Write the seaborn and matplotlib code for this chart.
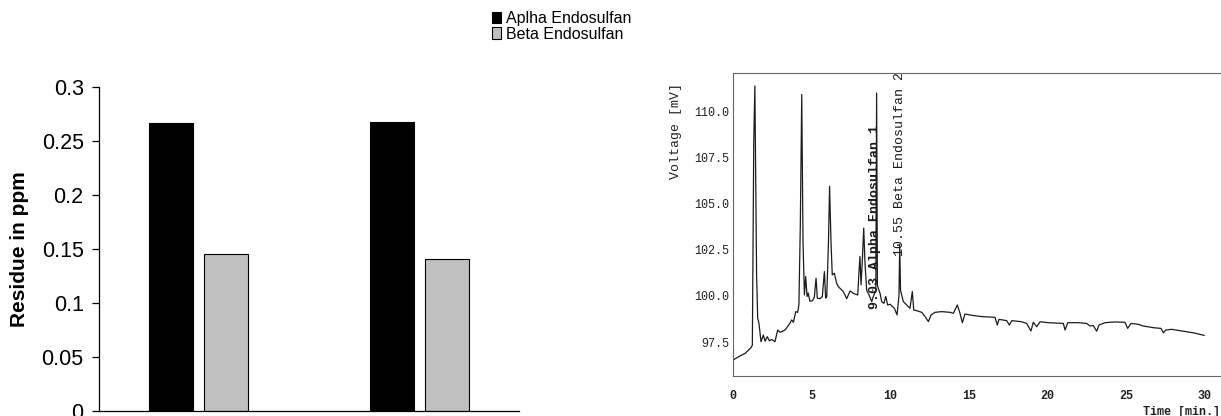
import matplotlib
matplotlib.use('Agg')
import matplotlib.pyplot as plt
from matplotlib.ticker import FuncFormatter, FormatStrFormatter
import pandas as pd
import seaborn as sns

# ── Data: residue bar chart ────────────────────────────────────────────────
samples = ['Sample 1', 'Sample 2']
compounds = ['Aplha Endosulfan', 'Beta Endosulfan']
alpha_ppm = [0.2665, 0.2678]
beta_ppm = [0.1453, 0.1406]
bar_colours = ['#000000', '#C0C0C0']

# ── Data: chromatogram trace ───────────────────────────────────────────────
time_min = [0.0, 0.34, 0.76, 1.14, 1.23, 1.32, 1.39, 1.50, 1.57, 1.65, 1.78, 1.93,
            2.04, 2.18, 2.31, 2.46, 2.67, 2.84, 2.99, 3.31, 3.62, 3.73, 3.84, 3.99,
            4.11, 4.19, 4.28, 4.37, 4.45, 4.54, 4.62, 4.71, 4.78, 4.89, 5.04, 5.17,
            5.28, 5.36, 5.53, 5.68, 5.81, 5.89, 5.96, 6.07, 6.14, 6.23, 6.31, 6.44,
            6.59, 6.70, 7.01, 7.23, 7.44, 7.65, 7.93, 8.01, 8.07, 8.14, 8.22, 8.31,
            8.39, 8.50, 8.65, 8.82, 8.92, 9.08, 9.13, 9.18, 9.24, 9.35, 9.45, 9.60,
            9.71, 9.83, 9.98, 10.26, 10.43, 10.55, 10.60, 10.65, 10.83, 11.04, 11.25,
            11.40, 11.49, 11.68, 12.00, 12.21, 12.42, 12.59, 12.84, 13.27, 13.80,
            14.01, 14.26, 14.43, 14.58, 14.75, 15.17, 15.81, 16.66, 16.80, 16.91,
            17.40, 17.57, 17.72, 18.35, 18.67, 18.94, 19.09, 19.31, 19.52, 20.05,
            21.00, 21.11, 21.28, 21.95, 22.48, 22.70, 22.90, 23.12, 23.27, 23.65,
            24.28, 24.92, 25.09, 25.30, 25.77, 26.08, 26.72, 27.21, 27.36, 27.51,
            27.89, 28.53, 29.27, 29.96]
voltage_mv = [96.52, 96.70, 96.88, 97.19, 97.33, 108.4, 111.38, 101.14, 98.79, 98.52, 97.52, 97.88,
              97.55, 97.79, 97.57, 97.64, 97.52, 98.15, 98.03, 98.15, 98.52, 98.70, 98.57, 99.15,
              99.11, 99.51, 103.86, 110.92, 102.93, 100.05, 101.05, 99.97, 100.16, 99.71, 99.74, 99.92,
              100.96, 99.88, 99.85, 99.97, 101.32, 99.88, 99.97, 102.93, 105.94, 102.93, 101.14, 101.23,
              100.69, 100.50, 100.24, 99.85, 100.27, 100.14, 100.05, 101.32, 102.14, 100.60, 101.87, 103.68,
              101.80, 100.30, 100.05, 99.69, 99.97, 100.30, 111.00, 100.60, 100.40, 100.14, 99.69, 99.60,
              99.97, 99.51, 99.55, 99.33, 98.97, 100.00, 102.80, 100.30, 99.69, 99.51, 99.33,
              100.24, 99.24, 99.20, 99.11, 98.88, 98.61, 98.97, 99.11, 99.15, 99.11,
              99.06, 99.51, 99.06, 98.55, 99.02, 98.95, 98.88, 98.84, 98.42, 98.73,
              98.66, 98.42, 98.66, 98.60, 98.51, 98.10, 98.57, 98.33, 98.60, 98.55,
              98.51, 98.15, 98.55, 98.55, 98.51, 98.37, 98.40, 98.09, 98.42, 98.55,
              98.59, 98.57, 98.24, 98.51, 98.46, 98.37, 98.28, 98.24, 98.00, 98.15,
              98.19, 98.10, 98.00, 97.86]
peak_labels = ['9.03 Alpha Endosulfan 1', '10.55 Beta Endosulfan 2']
peak_times = [9.03, 10.60]
peak_label_base = [99.3, 102.15]

W, H = 1221, 416
sns.set_theme(style='white')
plt.rcParams['font.family'] = ['Liberation Sans', 'DejaVu Sans']
plt.rcParams['text.color'] = 'black'

fig = plt.figure(figsize=(W / 100, H / 100), dpi=100)

# ── Left: bar chart ────────────────────────────────────────────────────────
ax1 = fig.add_axes([99 / W, (H - 411) / H, 420 / W, 324 / H])
df = pd.DataFrame({
    'sample': samples * 2,
    'compound': [compounds[0]] * len(samples) + [compounds[1]] * len(samples),
    'ppm': alpha_ppm + beta_ppm,
})
sns.barplot(data=df, x='sample', y='ppm', hue='compound', hue_order=compounds,
            palette=dict(zip(compounds, bar_colours)), width=0.5, gap=0.2,
            edgecolor='black', linewidth=0.8, errorbar=None, ax=ax1)
ax1.set_xlim(-0.45, 1.45)
ax1.set_ylim(0, 0.3)
ax1.set_yticks([0, 0.05, 0.1, 0.15, 0.2, 0.25, 0.3])
ax1.yaxis.set_major_formatter(FuncFormatter(lambda v, p: f'{v:g}'))
ax1.set_xlabel('')
ax1.set_ylabel('')
ax1.tick_params(axis='y', direction='out', length=5, width=0.9, pad=6,
                labelsize=15.5, left=True, colors='black')
ax1.tick_params(axis='x', bottom=False, labelbottom=False)
for s in ['top', 'right']:
    ax1.spines[s].set_visible(False)
for s in ['left', 'bottom']:
    ax1.spines[s].set_color('black')
    ax1.spines[s].set_linewidth(0.9)
fig.text(20 / W, 1 - 249 / H, 'Residue in ppm', rotation=90, ha='center',
         va='center', fontsize=15, fontweight='bold', color='black')

handles, labels = ax1.get_legend_handles_labels()
ax1.get_legend().remove()
fig.legend(handles, labels, loc='upper left', bbox_to_anchor=(492 / W, 1 - 11 / H),
           frameon=False, fontsize=11.5, handlelength=0.55, handleheight=0.75,
           handletextpad=0.3, labelspacing=0.05, borderpad=0, borderaxespad=0,
           labelcolor='black')

# ── Right: chromatogram ───────────────────────────────────────────────────
mono = ['Liberation Mono', 'DejaVu Sans Mono']
ax2 = fig.add_axes([733 / W, 40 / H, 495.5 / W, 303.3 / H])
sns.lineplot(x=time_min, y=voltage_mv, sort=False, estimator=None,
             color='#1c1c1c', linewidth=0.9, ax=ax2)
ax2.set_xlim(0, 31.5)
ax2.set_ylim(95.66, 112.1)
ax2.set_xticks([0, 5, 10, 15, 20, 25, 30])
ax2.set_yticks([97.5, 100.0, 102.5, 105.0, 107.5, 110.0])
ax2.yaxis.set_major_formatter(FormatStrFormatter('%.1f'))
ax2.tick_params(axis='y', direction='out', length=2, width=0.7, pad=1, colors='#222222')
ax2.tick_params(axis='x', direction='out', length=3, width=0.7, pad=7, colors='#222222')
for lab in ax2.get_xticklabels() + ax2.get_yticklabels():
    lab.set_family(mono)
    lab.set_fontsize(8.5)
for lab in ax2.get_xticklabels():
    lab.set_fontweight('bold')
ax2.spines['right'].set_visible(False)
for s in ['left', 'top', 'bottom']:
    ax2.spines[s].set_color('#666666')
    ax2.spines[s].set_linewidth(0.8)

for i, (t, base, lab) in enumerate(zip(peak_times, peak_label_base, peak_labels)):
    ax2.text(t, base, lab, rotation=90, ha='center', va='bottom', fontsize=9.5,
             family=mono, color='#1a1a1a', fontweight='bold' if i == 0 else 'normal')

fig.text(676 / W, 1 - 131 / H, 'Voltage [mV]', rotation=90, ha='center',
         va='center', fontsize=9.5, family=mono, color='#222222')
fig.text(1143 / W, 4 / H, 'Time [min.]', ha='left', va='center', fontsize=8.5,
         family=mono, fontweight='bold', color='#222222')

fig.savefig('out.png', dpi=100)
